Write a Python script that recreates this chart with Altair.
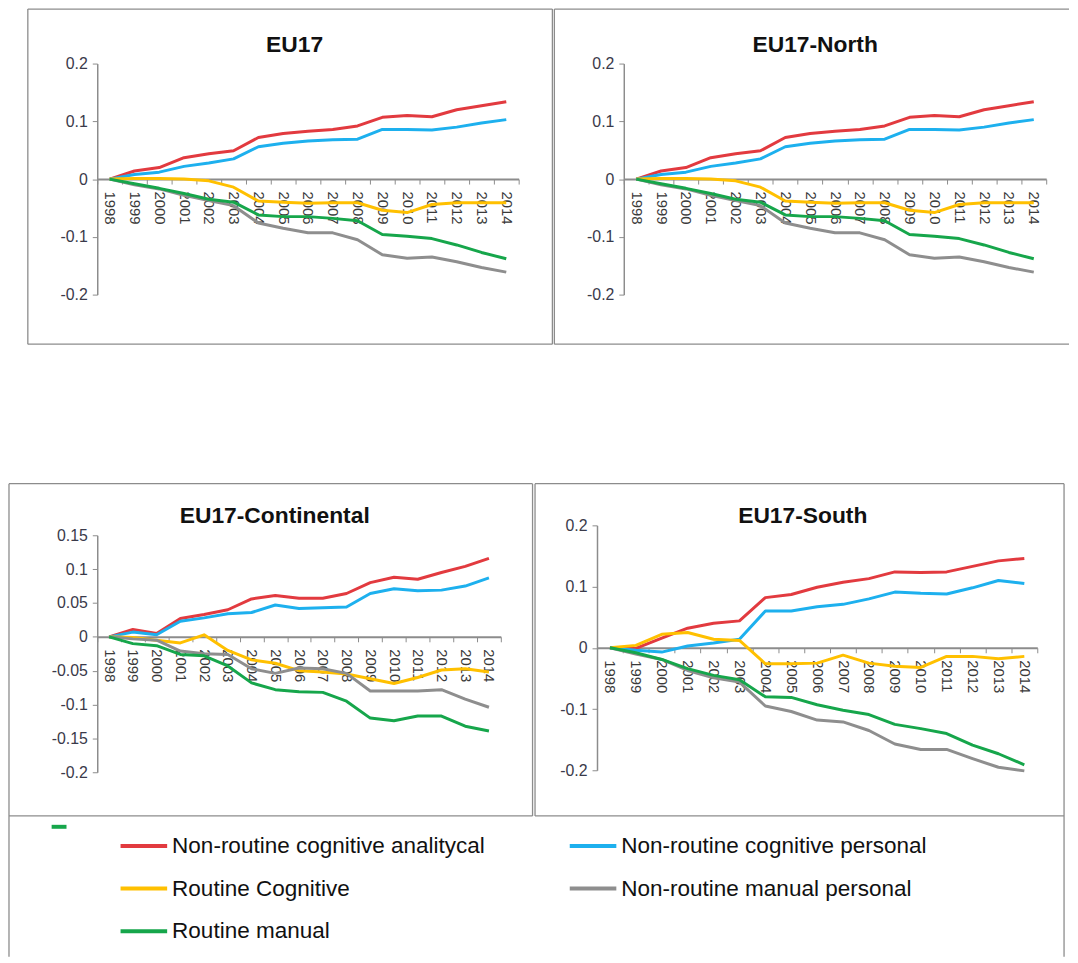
import altair as alt
import pandas as pd

YEARS = ["1998", "1999", "2000", "2001", "2002", "2003", "2004", "2005", "2006",
         "2007", "2008", "2009", "2010", "2011", "2012", "2013", "2014"]
SERIES = ["Non-routine cognitive analitycal", "Non-routine cognitive personal",
          "Routine Cognitive", "Non-routine manual personal", "Routine manual"]
COLORS = ["#E23A3F", "#1DB0EE", "#FFC000", "#8E8E8E", "#16A64B"]

# EU17
eu_red = [0, 0.014, 0.020, 0.037, 0.044, 0.049, 0.072, 0.079, 0.083, 0.086, 0.092, 0.107, 0.110, 0.108, 0.120, 0.127, 0.134]
eu_blue = [0, 0.008, 0.012, 0.022, 0.028, 0.035, 0.056, 0.062, 0.066, 0.068, 0.069, 0.086, 0.086, 0.085, 0.090, 0.097, 0.103]
eu_yellow = [0, 0.001, 0.001, 0.000, -0.003, -0.014, -0.038, -0.040, -0.042, -0.041, -0.041, -0.054, -0.058, -0.044, -0.041, -0.041, -0.041]
eu_gray = [0, -0.010, -0.017, -0.028, -0.037, -0.046, -0.076, -0.085, -0.093, -0.093, -0.105, -0.131, -0.137, -0.135, -0.143, -0.153, -0.161]
eu_green = [0, -0.008, -0.016, -0.025, -0.035, -0.040, -0.062, -0.065, -0.065, -0.068, -0.072, -0.096, -0.099, -0.103, -0.114, -0.127, -0.138]

# EU17-North
no_red = [0, 0.014, 0.020, 0.037, 0.044, 0.049, 0.072, 0.079, 0.083, 0.086, 0.092, 0.107, 0.110, 0.108, 0.120, 0.127, 0.134]
no_blue = [0, 0.008, 0.012, 0.022, 0.028, 0.035, 0.056, 0.062, 0.066, 0.068, 0.069, 0.086, 0.086, 0.085, 0.090, 0.097, 0.103]
no_yellow = [0, 0.001, 0.001, 0.000, -0.003, -0.014, -0.038, -0.040, -0.042, -0.041, -0.041, -0.054, -0.058, -0.044, -0.041, -0.041, -0.041]
no_gray = [0, -0.010, -0.017, -0.028, -0.037, -0.046, -0.076, -0.085, -0.093, -0.093, -0.105, -0.131, -0.137, -0.135, -0.143, -0.153, -0.161]
no_green = [0, -0.008, -0.016, -0.025, -0.035, -0.040, -0.062, -0.065, -0.065, -0.068, -0.072, -0.096, -0.099, -0.103, -0.114, -0.127, -0.138]

# EU17-Continental
co_red = [0, 0.011, 0.005, 0.027, 0.033, 0.040, 0.056, 0.061, 0.057, 0.057, 0.064, 0.080, 0.088, 0.085, 0.095, 0.104, 0.116]
co_blue = [0, 0.007, 0.003, 0.023, 0.028, 0.034, 0.036, 0.047, 0.042, 0.043, 0.044, 0.064, 0.071, 0.068, 0.069, 0.075, 0.087]
co_yellow = [0, -0.001, -0.005, -0.009, 0.003, -0.020, -0.034, -0.039, -0.050, -0.052, -0.055, -0.062, -0.069, -0.060, -0.049, -0.047, -0.052]
co_gray = [0, -0.003, -0.005, -0.021, -0.025, -0.026, -0.047, -0.054, -0.046, -0.047, -0.054, -0.080, -0.080, -0.080, -0.078, -0.092, -0.104]
co_green = [0, -0.010, -0.013, -0.026, -0.028, -0.043, -0.068, -0.078, -0.081, -0.082, -0.095, -0.120, -0.124, -0.117, -0.117, -0.132, -0.139]

# EU17-South
so_red = [0, -0.001, 0.016, 0.032, 0.040, 0.044, 0.082, 0.087, 0.099, 0.107, 0.113, 0.124, 0.123, 0.124, 0.133, 0.142, 0.146]
so_blue = [0, -0.004, -0.007, 0.003, 0.008, 0.014, 0.060, 0.060, 0.067, 0.071, 0.080, 0.091, 0.089, 0.088, 0.098, 0.110, 0.105]
so_yellow = [0, 0.004, 0.022, 0.025, 0.014, 0.012, -0.026, -0.026, -0.025, -0.012, -0.025, -0.030, -0.032, -0.014, -0.014, -0.018, -0.014]
so_gray = [0, -0.010, -0.019, -0.037, -0.049, -0.056, -0.095, -0.104, -0.118, -0.121, -0.135, -0.157, -0.166, -0.166, -0.181, -0.195, -0.201]
so_green = [0, -0.008, -0.019, -0.034, -0.045, -0.052, -0.080, -0.081, -0.093, -0.102, -0.109, -0.125, -0.132, -0.140, -0.159, -0.173, -0.191]

TICKS_02 = [-0.2, -0.1, 0, 0.1, 0.2]
TICKS_015 = [-0.2, -0.15, -0.1, -0.05, 0, 0.05, 0.1, 0.15]

FONT = "Liberation Sans"
FRAME = "#8c8c8c"
ONE = pd.DataFrame({"k": [0]})


def long_df(series_lists):
    rows = []
    for s, vals in zip(SERIES, series_lists):
        for y, v in zip(YEARS, vals):
            rows.append({"year": y, "value": v, "series": s})
    return pd.DataFrame(rows)


def seg(x1, x2, y1, y2, color=FRAME, width=1.3):
    return alt.Chart(ONE).mark_rule(color=color, strokeWidth=width).encode(
        x=alt.value(x1), x2=alt.value(x2), y=alt.value(y1), y2=alt.value(y2))


def panel(title, lists, w, h, ymin, ymax, ticks, segs, tx, ty, legend=None, top=0):
    df = long_df(lists)
    inner = h - top
    zero_y = top + inner * (ymax - 0) / (ymax - ymin)
    lines = alt.Chart(df).mark_line(strokeWidth=3, strokeJoin="round").encode(
        x=alt.X("year:O", sort=YEARS, bandPosition=0.5,
                scale=alt.Scale(type="band", paddingInner=0, paddingOuter=0),
                axis=alt.Axis(title=None, labelAngle=90, labelAlign="left",
                              labelBaseline="middle", offset=-(h - zero_y),
                              tickBand="extent", tickSize=5, tickColor=FRAME,
                              domainColor=FRAME, domainWidth=2, labelFontSize=15,
                              labelFont=FONT, labelColor="#3a3a3a", labelPadding=7,
                              labelOverlap=False)),
        y=alt.Y("value:Q", scale=alt.Scale(domain=[ymin, ymax], nice=False, zero=False,
                                           range=[h, top]),
                axis=alt.Axis(title=None, values=ticks, tickSize=5, tickColor=FRAME,
                              domainColor=FRAME, domainWidth=1.5, labelFontSize=16,
                              labelFont=FONT, labelColor="#3a3a4a", labelPadding=5,
                              grid=False,
                              labelExpr="(datum.value < 0 ? '-' : '') + format(abs(datum.value), '~g')")),
        color=alt.Color("series:N", scale=alt.Scale(domain=SERIES, range=COLORS),
                        legend=legend),
        detail="series:N",
    )
    layers = [lines]
    for s in segs:
        layers.append(seg(*s))
    ttl = alt.Chart(pd.DataFrame({"t": [title]})).mark_text(
        font=FONT, fontSize=23, fontWeight="bold", color="#111111",
        align="center", baseline="middle").encode(
        text="t:N", x=alt.value(tx), y=alt.value(ty))
    layers.append(ttl)
    return alt.layer(*layers).properties(width=w, height=h)


legend = alt.Legend(orient="none", legendX=33, legendY=775, columns=2, direction="horizontal",
                    title=None, symbolType="M-2,0H2", symbolSize=552, symbolStrokeWidth=4,
                    labelFontSize=22.7, labelFont=FONT, labelColor="#111111",
                    labelOffset=14.5, rowPadding=17, columnPadding=77,
                    padding=0, labelLimit=0)

# panel 1 : EU17 (plot 425 x 233)
p1 = panel("EU17", [eu_red, eu_blue, eu_yellow, eu_gray, eu_green], 425, 233,
           -0.2, 0.2, TICKS_02,
           [(-70, 459, -55, -55), (-70, 459, 283, 283), (-70, -70, -55, 283),
            (459, 459, -55, 283), (-91, -91, 0, 1, "#ffffff", 1)],
           199, -19, legend)
# panel 2 : EU17-North
p2 = panel("EU17-North", [no_red, no_blue, no_yellow, no_gray, no_green], 426, 233,
           -0.2, 0.2, TICKS_02,
           [(-70, 449, -55, -55), (-70, 449, 283, 283), (-70, -70, -55, 283)],
           193, -19, None)
# panel 3 : EU17-Continental (plot top shifted 10px lower inside the cell)
p3 = panel("EU17-Continental", [co_red, co_blue, co_yellow, co_gray, co_green], 407, 249,
           -0.2, 0.15, TICKS_015,
           [(-89, 439, -42, -42), (-89, 439, 293, 293), (-89, -89, -42, 435),
            (439, 439, -42, 293), (-46, -31, 304, 304, "#16A64B", 4)],
           179, -9, None, top=10)
# panel 4 : EU17-South
p4 = panel("EU17-South", [so_red, so_blue, so_yellow, so_gray, so_green], 444, 247,
           -0.2, 0.2, TICKS_02,
           [(-62.5, 471, -42, -42), (-62.5, 471, 293, 293), (-62.5, -62.5, -42, 293),
            (471, 471, -42, 435)],
           207.5, -9, None)

top_row = alt.hconcat(p1, p2, spacing=0)
bottom_row = alt.hconcat(p3, p4, spacing=0)
chart = alt.vconcat(top_row, bottom_row, spacing=138.7).properties(
    padding={"top": -4, "left": -2, "right": 0, "bottom": 0}).configure(
    font=FONT).configure_view(strokeWidth=0).configure_axis(grid=False)

chart.save("out.html", embed_options={"renderer": "svg", "actions": False})
